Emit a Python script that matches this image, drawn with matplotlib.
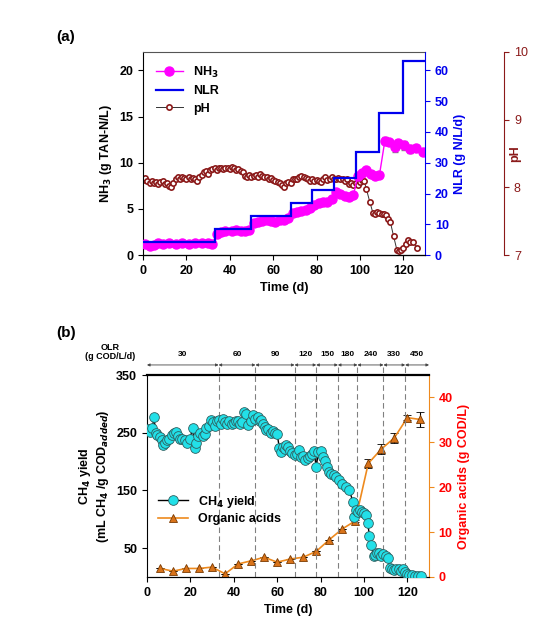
import matplotlib
matplotlib.use("Agg")
import matplotlib.pyplot as plt
import matplotlib.transforms as mtransforms
from matplotlib.lines import Line2D

plt.rcParams['font.family'] = ['Liberation Sans', 'DejaVu Sans']
plt.rcParams['font.weight'] = 'bold'

# ---------------- panel (a) data ----------------
nh3_days = [1, 3, 5, 7, 9, 12, 15, 18, 21, 24, 27, 30, 32,
            34, 36, 38, 41, 43, 45, 47, 49,
            51, 53, 55, 57, 59, 61, 63, 65, 67,
            69, 71, 73, 75, 77,
            79, 81, 83, 85, 87,
            89, 91, 93, 95, 97,
            99, 101, 103, 105, 107, 109,
            111.5, 113.5, 116, 117.5, 120.5, 123, 126, 129]
nh3 = [1.2, 1.0, 1.1, 1.3, 1.2, 1.3, 1.2, 1.3, 1.2, 1.3, 1.3, 1.3, 1.2,
       2.3, 2.5, 2.6, 2.6, 2.7, 2.6, 2.6, 2.7,
       3.5, 3.6, 3.7, 3.8, 3.7, 3.6, 3.8, 3.8, 4.0,
       4.6, 4.7, 4.8, 4.9, 5.1,
       5.4, 5.6, 5.7, 5.8, 6.1,
       6.8, 6.6, 6.4, 6.3, 6.5,
       8.6, 8.9, 9.2, 8.8, 8.6, 8.7,
       12.4, 12.2, 11.7, 12.1, 11.9, 11.5, 11.6, 11.2]
nh3_err = [0] * 45 + [0.1, 0.2, 0.2, 0.1, 0.1, 0.2,
                      0.4, 0.3, 0.5, 0.4, 0.5, 0.4, 0.3, 0.2]

nlr_edges = [0, 33, 50, 68, 78, 88, 98, 109, 120, 130]
nlr = [4.2, 8.4, 12.6, 16.8, 21.0, 25.2, 33.6, 46.2, 63.0]

ph_days = [0, 1, 2, 3, 4, 5, 6, 7, 8, 9, 10, 11, 12, 13, 14, 15, 16, 17, 18, 19,
           20, 21, 22, 23, 24, 25, 26, 27, 28, 29, 30, 31, 32, 33, 34, 35, 36, 37,
           38, 39, 40, 41, 42, 43, 44, 45, 46, 47, 48, 49, 50, 51, 52, 53, 54, 55,
           56, 57, 58, 59, 60, 61, 62, 63, 64, 65, 66, 67, 68, 69, 70, 71, 72, 73,
           74, 75, 76, 77, 78, 79, 80, 81, 82, 83, 84, 85, 86, 87, 88, 89, 90, 91,
           92, 93, 94, 95, 96, 97, 98, 99, 100, 101, 102, 103, 104.5, 106, 107,
           108, 109, 110, 111, 112, 113, 114, 115.5, 117, 118, 119, 120, 121, 122,
           123, 124.5, 126.5]
ph = [8.11, 8.14, 8.10, 8.07, 8.09, 8.06, 8.08, 8.05, 8.08, 8.10, 8.05, 8.06,
      8.02, 8.00, 8.06, 8.12, 8.15, 8.13, 8.16, 8.14, 8.13, 8.15, 8.12, 8.14,
      8.12, 8.10, 8.15, 8.18, 8.22, 8.24, 8.20, 8.25, 8.27, 8.28, 8.26, 8.29,
      8.28, 8.27, 8.29, 8.28, 8.27, 8.30, 8.28, 8.26, 8.27, 8.24, 8.22, 8.17,
      8.16, 8.18, 8.15, 8.17, 8.18, 8.16, 8.19, 8.17, 8.15, 8.16, 8.12, 8.14,
      8.11, 8.10, 8.08, 8.06, 8.03, 8.01, 8.06, 8.08, 8.07, 8.12, 8.13, 8.13,
      8.16, 8.17, 8.16, 8.14, 8.12, 8.10, 8.12, 8.10, 8.11, 8.09, 8.08, 8.12,
      8.15, 8.11, 8.12, 8.16, 8.13, 8.12, 8.14, 8.12, 8.13, 8.09, 8.12, 8.05,
      8.07, 8.03, 8.07, 8.03, 8.08, 8.11, 8.09, 7.97, 7.79, 7.62, 7.60, 7.64,
      7.62, 7.60, 7.60, 7.59, 7.53, 7.49, 7.28, 7.08, 7.06, 7.08, 7.11, 7.16,
      7.23, 7.20, 7.20, 7.10]

# ---------------- panel (b) data ----------------
ch4_days = [0.6, 1.5, 2.5, 3.2, 4.0, 4.8, 6.0, 6.8, 7.5, 8.5, 9.3, 10.2, 11.3,
            12.5, 13.6, 14.4, 15.2, 16.3, 17.5, 18.5, 19.8, 21.0, 22.0, 22.8,
            23.6, 24.6, 25.9, 26.8, 27.4, 28.5, 29.7, 30.5, 31.3, 32.2, 33.0,
            34.0, 35.0, 36.0, 37.0, 38.0, 39.0, 40.0, 41.0, 42.0, 42.8, 43.7,
            44.6, 45.5, 46.6, 47.8, 48.9, 50.0, 51.2, 52.0, 52.7, 53.5, 54.3,
            55.0, 55.8, 57.0, 58.0, 59.0, 60.0, 61.0, 61.9, 62.6, 63.5, 64.3,
            65.0, 66.0, 67.0, 68.0, 69.0, 70.0, 71.0, 72.0, 73.0, 74.0, 75.0,
            76.0, 77.0, 78.0, 79.0, 80.0, 81.0, 82.0, 83.0, 84.0, 85.0, 86.0,
            87.0, 88.7, 90.0, 91.8, 93.3, 94.9, 95.6, 96.4, 97.2, 98.0, 99.0,
            100.0, 101.0, 101.8, 102.5, 103.3, 104.5, 105.3, 106.0, 107.0,
            108.0, 109.0, 110.0, 111.0, 112.0, 113.0, 114.0, 115.0, 116.0,
            117.0, 118.0, 119.0, 120.0, 121.0, 122.0, 123.5, 125.0, 126.3]
ch4 = [256, 252, 258, 277, 250, 246, 243, 238, 229, 233, 237, 240, 246,
       250, 251, 245, 239, 240, 237, 232, 239, 258, 223, 233, 245, 250, 244,
       248, 259, 262, 272, 268, 262, 270, 272, 265, 273, 268, 265, 270, 266,
       267, 271, 270, 265, 268, 286, 283, 263, 270, 281, 274, 277, 270, 272,
       265, 260, 255, 256, 250, 253, 249, 248, 224, 217, 226, 221, 229, 226,
       218, 215, 211, 213, 220, 208, 209, 203, 207, 210, 214, 218, 191, 216,
       218, 208, 201, 191, 182, 178, 176, 174, 168, 162, 156, 151, 130, 104,
       116, 112, 116, 113, 111, 107, 93, 71, 55, 36, 38, 42, 41, 37, 39, 37,
       33, 16, 14, 12, 14, 13, 11, 13, 9, 6, 4, 3, 2, 1, 1]

oa_days = [6, 12, 18, 24, 30, 36, 42, 48, 54, 60, 66, 72, 78, 84, 90, 96,
           102, 108, 114, 120, 126]
oa = [1.9, 1.3, 1.9, 1.9, 2.2, 0.7, 2.9, 3.6, 4.4, 3.3, 4.0, 4.4, 5.7, 8.3,
      10.7, 12.5, 25.3, 28.5, 31.0, 35.5, 35.1]
oa_err = [0, 0, 0, 0, 0, 0, 0, 0, 0, 0, 0, 0, 0, 0, 0, 0.3,
          1.0, 1.1, 1.1, 0.6, 1.6]

olr_edges = [0, 33, 50, 68, 78, 88, 97, 109, 119, 130]
olr_labels = ['30', '60', '90', '120', '150', '180', '240', '330', '450']

time_ticks = [0, 20, 40, 60, 80, 100, 120]

# ---------------- figure ----------------
fig = plt.figure(figsize=(5.53, 6.33), dpi=100)

magenta = '#FF00FF'
blue = '#0000EE'
darkred = '#8B1A1A'

# panel (a)
ax1 = fig.add_axes([0.2586, 0.597, 0.51, 0.321])
ax1.errorbar(nh3_days, nh3, yerr=nh3_err, color=magenta, marker='o', ms=6.5,
             lw=1, ecolor='gray', elinewidth=0.7, capsize=2, zorder=3)
ax1.set_xlim(0, 130)
ax1.set_ylim(0, 22)
ax1.set_yticks([0, 5, 10, 15, 20])
ax1.set_xticks(time_ticks)
ax1.set_xlabel('Time (d)', fontsize=9, fontweight='bold')
ax1.set_ylabel('NH$_3$ (g TAN-N/L)', fontsize=9, fontweight='bold')
ax1.tick_params(labelsize=9)
ax1.spines['right'].set_visible(False)
ax1.spines['top'].set_color('#555555')

ax1b = ax1.twinx()
ax1b.stairs(nlr, nlr_edges, baseline=None, color=blue, lw=1.6)
ax1b.set_ylim(0, 66)
ax1b.set_yticks([0, 10, 20, 30, 40, 50, 60])
ax1b.spines['right'].set_color(blue)
ax1b.spines['top'].set_visible(False)
ax1b.spines['left'].set_visible(False)
ax1b.tick_params(axis='y', colors=blue, labelsize=9)
ax1b.set_ylabel('NLR (g N/L/d)', color=blue, fontsize=9, fontweight='bold')

ax1c = ax1.twinx()
ax1c.spines['right'].set_position(('outward', 57))
ax1c.spines['right'].set_color(darkred)
ax1c.spines['top'].set_visible(False)
ax1c.spines['left'].set_visible(False)
ax1c.plot(ph_days, ph, color='#333333', lw=0.7, marker='o', ms=3.8,
          mfc='white', mec=darkred, mew=1.2, zorder=2)
ax1c.set_ylim(7, 10)
ax1c.set_yticks([7, 8, 9, 10])
ax1c.tick_params(axis='y', colors=darkred, labelsize=9)
for t in ax1c.get_yticklabels():
    t.set_fontweight('normal')
ax1c.set_ylabel('pH', color=darkred, fontsize=9, fontweight='bold')
ax1c.yaxis.set_label_coords(1.30, 0.5)

# draw order: pH at the back, NH3 in the middle, NLR on top
ax1c.set_zorder(1)
ax1.set_zorder(2)
ax1b.set_zorder(3)
ax1.patch.set_visible(False)
ax1b.patch.set_visible(False)

handles_a = [Line2D([], [], color=magenta, marker='o', ms=6.5, lw=1),
             Line2D([], [], color=blue, lw=1.6),
             Line2D([], [], color='#333333', lw=0.7, marker='o', ms=3.8,
                    mfc='white', mec=darkred, mew=1.2)]
ax1b.legend(handles_a, ['NH$_3$', 'NLR', 'pH'], loc='upper left', frameon=False,
            fontsize=9, handlelength=2.2, borderaxespad=0.6, labelspacing=0.45)

fig.text(0.102, 0.953, '(a)', fontsize=11, fontweight='bold', va='top')

# panel (b)
orange = '#EE8A1E'
ax2 = fig.add_axes([0.2658, 0.0885, 0.51, 0.319])
ax2.plot(ch4_days, ch4, color='black', lw=1, marker='o', ms=7,
         mfc='#22E0E8', mec='#2F5F5F', mew=0.6, zorder=3)
ax2.set_xlim(0, 130)
ax2.set_ylim(0, 350)
ax2.set_yticks([50, 150, 250, 350])
ax2.set_xticks(time_ticks)
ax2.tick_params(labelsize=9)
ax2.set_xlabel('Time (d)', fontsize=9, fontweight='bold')
ax2.set_ylabel('CH$_4$ yield\n(mL CH$_4$ /g COD$_{added}$)', fontsize=9,
               fontweight='bold')
ax2.spines['top'].set_linewidth(1.6)
ax2.spines['right'].set_visible(False)

ax2b = ax2.twinx()
ax2b.errorbar(oa_days, oa, yerr=oa_err, color=orange, lw=1.2, marker='^', ms=6,
              mfc='#D9731A', mec='#7A3A00', mew=0.6, ecolor='black',
              elinewidth=0.8, capsize=3, zorder=3)
ax2b.set_ylim(0, 45)
ax2b.set_yticks([0, 10, 20, 30, 40])
ax2b.spines['right'].set_color(orange)
ax2b.spines['top'].set_visible(False)
ax2b.spines['left'].set_visible(False)
ax2b.tick_params(axis='y', colors=orange, labelcolor='red', labelsize=9)
ax2b.set_ylabel('Organic acids (g COD/L)', color='red', fontsize=9,
                fontweight='bold')
ax2.set_zorder(ax2b.get_zorder() + 1)
ax2.patch.set_visible(False)

# OLR periods
trans = mtransforms.blended_transform_factory(ax2.transData, ax2.transAxes)
for x in olr_edges[1:-1]:
    ax2.plot([x, x], [0, 1.05], transform=trans, color='gray', ls=(0, (5, 3)),
             lw=0.8, clip_on=False, zorder=1)
for i, lab in enumerate(olr_labels):
    x0, x1 = olr_edges[i], olr_edges[i + 1]
    ax2.annotate('', xy=(x0, 1.05), xytext=(x1, 1.05), xycoords=trans,
                 textcoords=trans,
                 arrowprops=dict(arrowstyle='<|-|>', color='#444444', lw=0.6,
                                 mutation_scale=4, shrinkA=0, shrinkB=0))
    ax2.text((x0 + x1) / 2, 1.1, lab, transform=trans, ha='center',
             va='center', fontsize=6)
ax2.text(-0.13, 1.115, 'OLR\n(g COD/L/d)', transform=ax2.transAxes,
         ha='center', va='center', fontsize=6.5, linespacing=1.0)

handles_b = [Line2D([], [], color='black', lw=1, marker='o', ms=7,
                    mfc='#22E0E8', mec='#2F5F5F', mew=0.6),
             Line2D([], [], color=orange, lw=1.2, marker='^', ms=6,
                    mfc='#D9731A', mec='#7A3A00', mew=0.6)]
ax2.legend(handles_b, ['CH$_4$ yield', 'Organic acids'], loc='lower left',
           bbox_to_anchor=(0.0, 0.2), frameon=False, fontsize=9,
           handlelength=2.4, labelspacing=0.3)

fig.text(0.102, 0.485, '(b)', fontsize=11, fontweight='bold', va='top')

fig.savefig('out.png', dpi=100)
